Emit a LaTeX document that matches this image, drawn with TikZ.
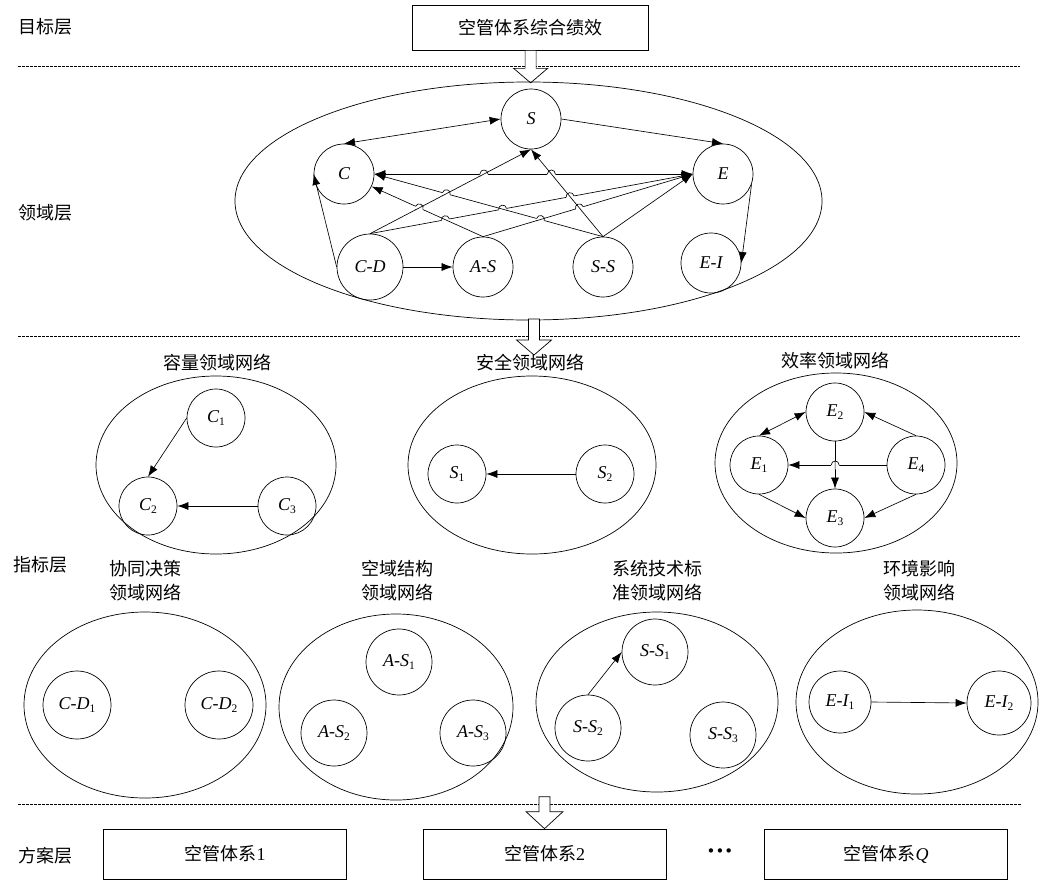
\documentclass[tikz,border=0pt]{standalone}
\usepackage{fontspec}
\setmainfont{Liberation Serif}
\newfontfamily\cjk{Noto Sans CJK SC}
\newfontfamily\dejavu{DejaVu Sans}
\usetikzlibrary{arrows.meta,calc}
\newcommand\sbs[1]{\raisebox{-3.5pt}{\fontsize{11.5}{11.5}\selectfont\upshape #1}}
% line hop: #1,#2 = hopping line (left end first), #3,#4 = line passed over
\newcommand\hop[4]{%
  \coordinate (hx) at (intersection of #1--#2 and #3--#4);
  \fill[white] (hx) circle (4.3pt);
  \draw[ln] ($(hx)!4.6pt!(#3)$) -- ($(hx)!4.6pt!(#4)$);
  \coordinate (hp) at ($(hx)!4pt!(#1)$);
  \coordinate (hq) at ($(hx)!4pt!(#2)$);
  \coordinate (hn) at ($(hx)!5.33pt!-90:(#1)$);
  \draw[ln] (hp) .. controls ($(hp)+(hn)-(hx)$) and ($(hq)+(hn)-(hx)$) .. (hq);
}
\tikzset{
  nd/.style={circle,draw,line width=0.7pt,minimum size=60pt,inner sep=0pt,
             font=\fontsize{18}{20}\selectfont\itshape},
  nds/.style={nd,minimum size=58pt},
  ndl/.style={nd,minimum size=66pt},
  ln/.style={line width=0.65pt},
  cn/.style={ln,-{Latex[length=11pt,width=8pt]}},
  cnb/.style={ln,{Latex[length=11pt,width=8pt]}-{Latex[length=11pt,width=8pt]}},
  zh/.style={font=\cjk\fontsize{18}{24}\selectfont,align=center},
  box/.style={draw,line width=0.7pt,minimum width=243pt,minimum height=50pt,inner sep=0pt,zh},
  grp/.style={line width=0.7pt},
  layer/.style={line width=0.6pt,dash pattern=on 2.5pt off 1.5pt},
  hollow/.style={draw,fill=white,line width=0.7pt},
}
\begin{document}
\begin{tikzpicture}[x=1pt,y=1pt]
\fill[white] (0,0) rectangle (1043,-881);
\useasboundingbox (0,0) rectangle (1043,-881);

% ---------------- layer separators ----------------
\draw[layer] (18,-66) -- (1020,-66);
\draw[layer] (18,-336) -- (1020,-336);
\draw[layer] (18,-804) -- (1022,-804);

% ---------------- layer labels ----------------
\node[zh] (l1) at (45,-27) {目标层};
\node[zh] (l2) at (45,-213) {领域层};
\node[zh] (l3) at (40,-565) {指标层};
\node[zh] (l4) at (45,-856) {方案层};

% ---------------- goal ----------------
\node[box,minimum width=236pt,minimum height=45pt] (goal) at (530.6,-27.5) {空管体系综合绩效};
\draw[hollow] ($(goal.south)+(-5.5,0)$) -- ++(11,0) -- ++(0,-18) -- ++(11.5,0)
  -- ++(-17,-14.5) -- ++(-17,14.5) -- ++(11.5,0) -- cycle;

% ---------------- domain layer ----------------
\draw[grp] (528.5,-201) ellipse [x radius=293.5pt, y radius=119pt];

\node[nd] (S) at (531,-119) {S};
\node[nd] (C) at (344,-174) {C};
\node[nd] (E) at (723,-174) {E};
\node[ndl] (CD) at (370,-267) {C-D};
\node[nd] (AS) at (483,-267) {A-S};
\node[nd] (SS) at (603,-267) {S-S};
\node[nd] (EI) at (711,-263) {E-I};

\draw[cnb] (C.north) -- (S.west);
\draw[cn] (S.east) -- (E.north);
\draw[cnb] (C.east) -- (E.west);
\draw[cn] (CD.west) -- (C.west);
\draw[cn] (CD.north) -- (S.south);
\draw[cn] (CD.north) -- (E.west);
\draw[cn] (AS.north) -- (C);
\draw[cn] (AS.north) -- (E.west);
\draw[cn] (SS.north) -- (C.east);
\draw[cn] (SS.north) -- (S.south);
\draw[cn] (SS.north) -- (E.west);
\draw[cn] (E.-20) -- (EI.east);
\draw[cn] (CD.east) -- (AS.west);

\coordinate (cE) at (C.east);
\coordinate (eW) at (E.west);
\coordinate (cdN) at (CD.north);
\coordinate (sS) at (S.south);
\coordinate (asN) at (AS.north);
\coordinate (ssN) at (SS.north);
\coordinate (cP) at ($(C)!30pt!(asN)$);
\hop{cE}{eW}{cdN}{sS}
\hop{cE}{eW}{ssN}{sS}
\hop{cE}{ssN}{cdN}{sS}
\hop{cE}{ssN}{asN}{eW}
\hop{cP}{asN}{cdN}{sS}
\hop{cdN}{eW}{cP}{asN}
\hop{cdN}{eW}{cE}{ssN}
\hop{cdN}{eW}{ssN}{sS}
\hop{asN}{eW}{ssN}{sS}

\draw[hollow] (528.5,-319) -- ++(11,0) -- ++(0,-21) -- ++(12,0)
  -- ++(-17.5,-15) -- ++(-17.5,15) -- ++(12,0) -- cycle;

% ---------------- indicator layer, row 1 ----------------
% capacity
\node[zh] (tc) at (217,-363) {容量领域网络};
\draw[grp] (216,-465) ellipse [x radius=120pt, y radius=89pt];
\node[nds] (C1) at (216,-418) {C\sbs{1}};
\node[nds] (C2) at (148,-506) {C\sbs{2}};
\node[nds] (C3) at (287,-506) {C\sbs{3}};
\draw[cn] (C1.west) -- (C2.north);
\draw[cn] (C3.west) -- (C2.east);

% safety
\node[zh] (ts) at (530,-363) {安全领域网络};
\draw[grp] (532,-465) ellipse [x radius=124pt, y radius=89pt];
\node[nds] (S1) at (457,-474) {S\sbs{1}};
\node[nds] (S2) at (605,-474) {S\sbs{2}};
\draw[cn] (S2.west) -- (S1.east);

% efficiency
\node[zh] (te) at (835,-361) {效率领域网络};
\draw[grp] (836,-463) ellipse [x radius=121pt, y radius=90pt];
\node[nds] (E2) at (835,-412) {E\sbs{2}};
\node[nds] (E1) at (759,-465) {E\sbs{1}};
\node[nds] (E4) at (916,-465) {E\sbs{4}};
\node[nds] (E3) at (835,-518) {E\sbs{3}};
\draw[cnb] (E1.north) -- (E2.west);
\draw[cn] (E4.north) -- (E2.east);
\draw[cn] (E4.west) -- (E1.east);
\draw[cn] (E2.south) -- (E3.north);
\draw[cn] (E1.south) -- (E3.west);
\draw[cn] (E4.south) -- (E3.east);
\coordinate (e1E) at (E1.east);
\coordinate (e4W) at (E4.west);
\coordinate (e2S) at (E2.south);
\coordinate (e3N) at (E3.north);
\hop{e1E}{e4W}{e2S}{e3N}

% ---------------- indicator layer, row 2 ----------------
\node[zh] (tcd) at (145,-581) {协同决策\\领域网络};
\draw[grp] (145,-705) ellipse [x radius=121pt, y radius=93pt];
\node[nd,minimum size=68pt] (CD1) at (77,-705) {C-D\sbs{1}};
\node[nd,minimum size=68pt] (CD2) at (219,-705) {C-D\sbs{2}};

\node[zh] (tas) at (397,-581) {空域结构\\领域网络};
\draw[grp] (396,-707) ellipse [x radius=117pt, y radius=93pt];
\node[ndl] (AS1) at (399,-662) {A-S\sbs{1}};
\node[ndl] (AS2) at (334,-733) {A-S\sbs{2}};
\node[ndl] (AS3) at (473,-733) {A-S\sbs{3}};

\node[zh] (tss) at (657,-581) {系统技术标\\准领域网络};
\draw[grp] (657,-702) ellipse [x radius=121pt, y radius=90pt];
\node[ndl] (SS1) at (655,-652) {S-S\sbs{1}};
\node[ndl] (SS2) at (588,-728) {S-S\sbs{2}};
\node[ndl] (SS3) at (723,-735) {S-S\sbs{3}};
\draw[cn] (SS2.north) -- (SS1.west);

\node[zh] (tei) at (919,-581) {环境影响\\领域网络};
\draw[grp] (917,-702) ellipse [x radius=121pt, y radius=92pt];
\node[nd,minimum size=62pt] (EI1) at (840,-702) {E-I\sbs{1}};
\node[nd,minimum size=64pt] (EI2) at (999,-703) {E-I\sbs{2}};
\draw[cn] (EI1.east) -- (EI2.west);

% ---------------- scheme layer ----------------
\node[box] (B1) at (225,-854) {空管体系{\rmfamily 1}};
\node[box] (B2) at (544.5,-854) {空管体系{\rmfamily 2}};
\node[box] (B3) at (886,-854) {空管体系{\rmfamily\itshape Q}};
\node[font=\dejavu\fontsize{15}{15}\selectfont] (dots) at (720,-853) {•••};
\draw[hollow] ($(B2.north)+(-5.5,32)$) -- ++(11,0) -- ++(0,-15) -- ++(13,0)
  -- ++(-18.5,-17) -- ++(-18.5,17) -- ++(13,0) -- cycle;
\end{tikzpicture}
\end{document}
